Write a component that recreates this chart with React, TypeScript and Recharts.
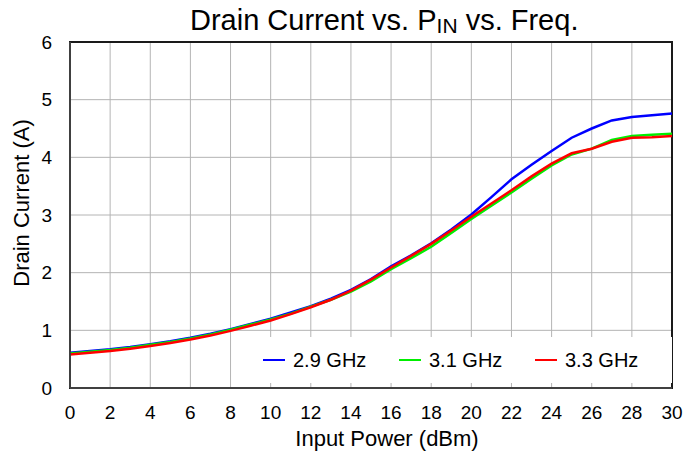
import React from 'react';
import { LineChart, Line, XAxis, YAxis, CartesianGrid, Legend, ReferenceArea, Label } from 'recharts';

// Input power sweep (dBm)
const inputPower = [0, 1, 2, 3, 4, 5, 6, 7, 8, 9, 10, 11, 12, 13, 14, 15, 16, 17, 18, 19, 20, 21, 22, 23, 24, 25, 26, 27, 28, 29, 30];

// Drain current (A) per frequency
const current29 = [0.61, 0.64, 0.67, 0.71, 0.76, 0.81, 0.87, 0.94, 1.02, 1.11, 1.2, 1.31, 1.42, 1.55, 1.7, 1.89, 2.11, 2.3, 2.51, 2.75, 3.01, 3.31, 3.62, 3.87, 4.11, 4.34, 4.5, 4.64, 4.7, 4.73, 4.76];
const current31 = [0.6, 0.63, 0.66, 0.7, 0.75, 0.8, 0.86, 0.93, 1.01, 1.1, 1.19, 1.29, 1.41, 1.53, 1.67, 1.85, 2.06, 2.25, 2.45, 2.69, 2.93, 3.16, 3.39, 3.63, 3.86, 4.05, 4.15, 4.3, 4.37, 4.39, 4.41];
const current33 = [0.58, 0.61, 0.64, 0.68, 0.73, 0.78, 0.84, 0.91, 0.99, 1.08, 1.17, 1.28, 1.4, 1.53, 1.69, 1.88, 2.09, 2.29, 2.5, 2.73, 2.97, 3.2, 3.43, 3.67, 3.89, 4.07, 4.15, 4.27, 4.34, 4.35, 4.37];

const xTicks = [0, 2, 4, 6, 8, 10, 12, 14, 16, 18, 20, 22, 24, 26, 28, 30];
const yTicks = [0, 1, 2, 3, 4, 5, 6];

const data = inputPower.map((p, i) => ({
  pin: p,
  f29: current29[i],
  f31: current31[i],
  f33: current33[i],
}));

const FONT = '"Liberation Sans", Arial, sans-serif';

const renderLegend = (props: any) => {
  const { payload } = props;
  return (
    <div style={{ display: 'flex', alignItems: 'center', height: 46, width: 422, background: '#fff', fontFamily: FONT, fontSize: 20, color: '#000', whiteSpace: 'nowrap' }}>
      {payload.map((entry: any, i: number) => (
        <div key={entry.value} style={{ display: 'flex', alignItems: 'center', flexShrink: 0, position: 'absolute', left: 13 + i * 136 }}>
          <span style={{ display: 'inline-block', width: 22, height: 2.5, background: entry.color, marginRight: 8 }} />
          <span>{entry.value}</span>
        </div>
      ))}
    </div>
  );
};

export default function App() {
  return (
    <div style={{ position: 'absolute', left: 0, top: 0, width: 684, height: 455, background: '#fff', fontFamily: FONT }}>
      <div style={{ position: 'absolute', left: 190, top: 4, fontSize: 29, color: '#000', whiteSpace: 'nowrap', lineHeight: 'normal' }}>
        Drain Current vs. P<span style={{ fontSize: 21, position: 'relative', top: 3 }}>IN</span> vs. Freq.
      </div>
      <LineChart width={684} height={455} data={data} margin={{ top: 42, right: 12, left: 0, bottom: 0 }}>
        <CartesianGrid stroke="#b4b4b4" strokeWidth={1} />
        <XAxis
          dataKey="pin"
          type="number"
          domain={[0, 30]}
          ticks={xTicks}
          height={67}
          tickLine={false}
          tickSize={0}
          tickMargin={18}
          axisLine={{ stroke: '#404040', strokeWidth: 2 }}
          tick={{ fill: '#000', fontSize: 19, fontFamily: FONT }}
        >
          <Label
            content={({ viewBox }: any) => (
              <text x={viewBox.x + viewBox.width / 2 + 16} y={viewBox.y + 58} textAnchor="middle" fontSize={22} fontFamily={FONT} fill="#000">
                Input Power (dBm)
              </text>
            )}
          />
        </XAxis>
        <YAxis
          type="number"
          domain={[0, 6]}
          ticks={yTicks}
          width={70}
          tickLine={false}
          tickSize={0}
          tickMargin={18}
          axisLine={{ stroke: '#404040', strokeWidth: 2 }}
          tick={{ fill: '#000', fontSize: 19, fontFamily: FONT }}
        >
          <Label
            content={({ viewBox }: any) => {
              const cx = 29;
              const cy = viewBox.y + viewBox.height / 2 - 12;
              return (
                <text x={cx} y={cy} transform={`rotate(-90 ${cx} ${cy})`} textAnchor="middle" fontSize={22} fontFamily={FONT} fill="#000">
                  Drain Current (A)
                </text>
              );
            }}
          />
        </YAxis>
        <ReferenceArea x1={0} x2={30} y1={0} y2={6} fill="none" stroke="#1a1a1a" strokeWidth={2} ifOverflow="visible" />
        <Legend
          layout="vertical"
          verticalAlign="middle"
          align="center"
          content={renderLegend}
          wrapperStyle={{ left: 250, top: 337, width: 422, height: 46 }}
        />
        <Line type="linear" dataKey="f29" name="2.9 GHz" stroke="#0000ff" strokeWidth={2.5} dot={false} isAnimationActive={false} />
        <Line type="linear" dataKey="f31" name="3.1 GHz" stroke="#00ee00" strokeWidth={2.5} dot={false} isAnimationActive={false} />
        <Line type="linear" dataKey="f33" name="3.3 GHz" stroke="#ff0000" strokeWidth={2.5} dot={false} isAnimationActive={false} />
      </LineChart>
    </div>
  );
}
